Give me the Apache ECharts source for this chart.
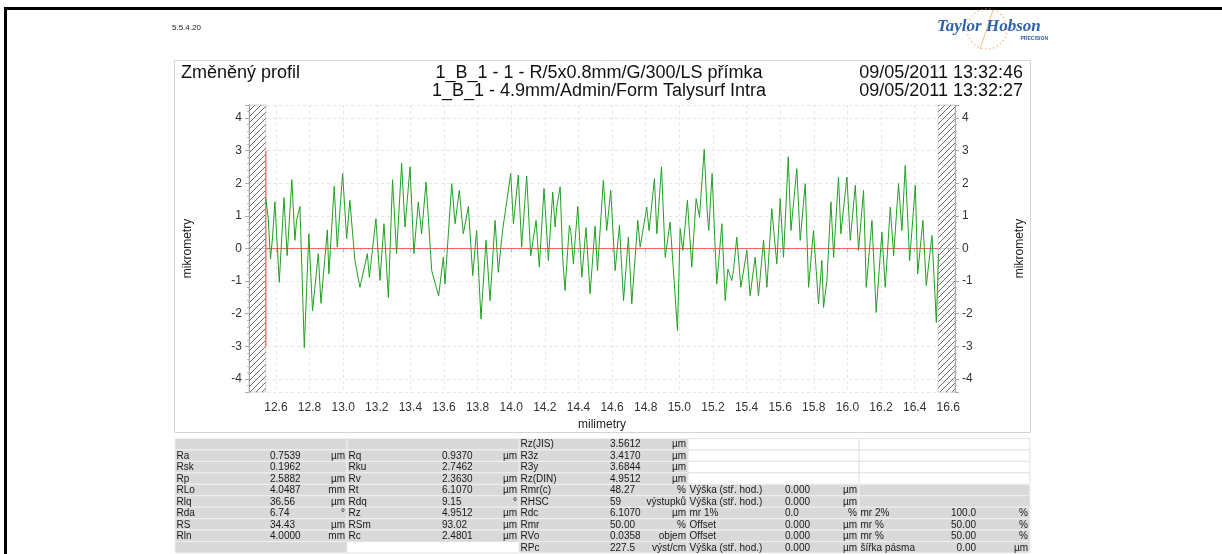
<!DOCTYPE html>
<html><head><meta charset="utf-8">
<script src="https://cdn.jsdelivr.net/npm/echarts@6/dist/echarts.min.js"></script>
<style>html,body{margin:0;padding:0;background:#fff}#c{width:1222px;height:554px}</style>
</head><body><div id="c"></div><script>
// ---------- data ----------
const profileX = [
12.540,12.554,12.568,12.580,12.594,12.620,12.648,12.667,12.695,12.713,
12.723,12.743,12.769,12.796,12.818,12.852,12.868,12.906,12.915,12.947,
12.965,12.997,13.021,13.040,13.070,13.100,13.144,13.156,13.195,13.219,
13.243,13.269,13.294,13.318,13.348,13.368,13.398,13.421,13.447,13.467,
13.493,13.527,13.568,13.596,13.606,13.646,13.666,13.691,13.715,13.745,
13.771,13.794,13.820,13.850,13.874,13.904,13.923,13.949,13.997,14.013,
14.042,14.062,14.092,14.116,14.148,14.167,14.195,14.221,
14.231,14.247,14.261,14.271,14.291,14.306,14.320,14.346,14.354,14.370,
14.380,14.396,14.420,14.445,14.469,14.499,14.513,14.548,14.568,14.592,
14.618,14.644,14.668,14.697,14.717,14.753,14.767,14.806,14.820,14.852,
14.866,14.894,14.916,14.945,14.969,14.989,15.005,15.021,15.048,15.074,
15.100,15.120,15.148,15.164,15.175,15.195,15.213,15.223,15.253,15.273,
15.289,15.312,15.322,15.342,15.366,15.402,15.421,15.451,15.471,15.501,
15.521,15.550,15.580,15.600,15.620,15.648,15.664,15.699,15.719,15.749,
15.769,15.798,15.828,15.848,15.858,15.878,15.902,15.918,15.947,15.961,
15.997,16.017,16.047,16.066,16.096,16.112,16.146,16.171,16.205,16.225,
16.255,16.275,16.304,16.324,16.344,16.370,16.404,16.418,16.449,16.469,
16.503,16.529,16.542];
const profileY = [
1.53,0.96,-0.32,0.35,1.43,-1.04,1.56,-0.22,2.11,0.25,
0.86,1.29,-3.04,0.45,-1.91,-0.16,-1.68,0.57,-0.78,1.91,
0.04,2.30,0.30,1.48,-0.37,-1.19,-0.16,-0.88,0.91,-0.98,
0.76,-1.50,2.11,-0.16,2.61,0.66,2.50,-0.16,1.43,0.45,
2.04,-0.68,-1.45,-0.27,-1.09,1.99,0.76,1.78,0.45,1.29,
-0.83,0.55,-2.16,0.25,-1.60,0.86,-0.73,0.57,2.30,0.76,
2.25,0.04,2.22,-0.22,0.86,-0.57,1.84,-0.37,
0.45,1.73,0.66,1.27,1.89,-0.27,-1.29,0.71,0.55,-0.47,
0.25,1.29,-0.88,0.64,-1.39,0.68,-0.68,2.09,0.55,1.78,
-0.68,0.71,-1.60,0.35,-1.70,0.86,0.04,1.27,0.55,2.14,
0.45,2.50,-0.27,0.81,-0.98,-2.52,0.61,-0.06,1.48,-0.57,
1.53,0.96,3.04,1.27,0.55,2.30,0.04,-1.09,0.76,-1.60,
-0.63,-0.98,-0.68,0.35,-1.19,-0.06,-1.45,-0.27,-1.45,0.25,
-1.19,1.22,-0.47,1.53,-0.27,2.81,0.55,2.45,0.25,1.99,
-1.19,0.55,-1.70,-0.37,-1.81,-0.98,1.43,-0.27,2.19,0.45,
2.19,0.25,1.94,-0.06,1.78,-1.19,0.86,-1.96,0.50,-1.19,
1.27,-0.22,1.99,0.55,2.55,-0.37,1.94,-0.78,0.86,-1.14,
0.40,-2.27,-0.16];
const zeroLineX = [12.54, 16.54];
const zeroLineY = [0, 0];
const startMarkX = [12.54, 12.54];
const startMarkY = [-3, 3];
const hatchLeft = [12.44, 12.54];
const hatchRight = [16.54, 16.64];
const xRange = [12.44, 16.64];
const yRange = [-4.4, 4.4];

const titleLeft = 'Změněný profil';
const titleCenter = ['1_B_1 - 1 - R/5x0.8mm/G/300/LS přímka', '1_B_1 - 4.9mm/Admin/Form Talysurf Intra'];
const titleRight = ['09/05/2011 13:32:46', '09/05/2011 13:32:27'];
const versionText = '5.5.4.20';
const xName = 'milimetry';
const yName = 'mikrometry';

// table (10 rows per group)
const g1Labels = ['', 'Ra', 'Rsk', 'Rp', 'RLo', 'Rlq', 'Rda', 'RS', 'Rln', ''];
const g1Values = ['', '0.7539', '0.1962', '2.5882', '4.0487', '36.56', '6.74', '34.43', '4.0000', ''];
const g1Units  = ['', 'µm', '', 'µm', 'mm', 'µm', '°', 'µm', 'mm', ''];
const g2Labels = ['', 'Rq', 'Rku', 'Rv', 'Rt', 'Rdq', 'Rz', 'RSm', 'Rc', ''];
const g2Values = ['', '0.9370', '2.7462', '2.3630', '6.1070', '9.15', '4.9512', '93.02', '2.4801', ''];
const g2Units  = ['', 'µm', '', 'µm', 'µm', '°', 'µm', 'µm', 'µm', ''];
const g3Labels = ['Rz(JIS)', 'R3z', 'R3y', 'Rz(DIN)', 'Rmr(c)', 'RHSC', 'Rdc', 'Rmr', 'RVo', 'RPc'];
const g3Values = ['3.5612', '3.4170', '3.6844', '4.9512', '48.27', '59', '6.1070', '50.00', '0.0358', '227.5'];
const g3Units  = ['µm', 'µm', 'µm', 'µm', '%', 'výstupků', 'µm', '%', 'objem', 'výst/cm'];
const g4Labels = ['', '', '', '', 'Výška (stř. hod.)', 'Výška (stř. hod.)', 'mr 1%', 'Offset', 'Offset', 'Výška (stř. hod.)'];
const g4Values = ['', '', '', '', '0.000', '0.000', '0.0', '0.000', '0.000', '0.000'];
const g4Units  = ['', '', '', '', 'µm', 'µm', '%', 'µm', 'µm', 'µm'];
const g5Labels = ['', '', '', '', '', '', 'mr 2%', 'mr %', 'mr %', 'šířka pásma'];
const g5Values = ['', '', '', '', '', '', '100.0', '50.00', '50.00', '0.00'];
const g5Units  = ['', '', '', '', '', '', '%', '%', '%', 'µm'];

// ---------- layout / style ----------
const FONT = '"Liberation Sans", Arial, sans-serif';
const groups = [
  {L: g1Labels, V: g1Values, U: g1Units, x0: 175, x1: 347, vx: 270, va: 'left', shade: [1,1,1,1,1,1,1,1,1,1]},
  {L: g2Labels, V: g2Values, U: g2Units, x0: 347, x1: 519, vx: 442, va: 'left', shade: [1,1,1,1,1,1,1,1,1,0]},
  {L: g3Labels, V: g3Values, U: g3Units, x0: 519, x1: 688, vx: 610, va: 'left', shade: [1,1,1,1,1,1,1,1,1,1]},
  {L: g4Labels, V: g4Values, U: g4Units, x0: 688, x1: 859, vx: 785, va: 'left', shade: [0,0,0,0,1,1,1,1,1,1]},
  {L: g5Labels, V: g5Values, U: g5Units, x0: 859, x1: 1030, vx: 976, va: 'right', shade: [0,0,0,0,1,1,1,1,1,1]}
];
const tableTop = 438.5, rowH = 11.45;

const graphics = [];
// page frame
graphics.push({type: 'line', shape: {x1: 4, y1: 8.5, x2: 1222, y2: 8.5}, style: {stroke: '#000', lineWidth: 3}});
graphics.push({type: 'line', shape: {x1: 5.5, y1: 7, x2: 5.5, y2: 554}, style: {stroke: '#000', lineWidth: 3}});
// chart panel
graphics.push({type: 'rect', z: -10, shape: {x: 174.5, y: 60.5, width: 856, height: 372}, style: {fill: '#fff', stroke: '#d4d4d4', lineWidth: 1}});
// version
graphics.push({type: 'text', x: 172, y: 28, style: {text: versionText, font: '8px ' + FONT, fill: '#222', align: 'left', verticalAlign: 'middle'}});
// titles
graphics.push({type: 'text', x: 181, y: 73, style: {text: titleLeft, font: '18px ' + FONT, fill: '#111', align: 'left', verticalAlign: 'middle'}});
titleCenter.forEach((t, i) => graphics.push({type: 'text', x: 599, y: 73 + i * 18, style: {text: t, font: '18px ' + FONT, fill: '#111', align: 'center', verticalAlign: 'middle'}}));
titleRight.forEach((t, i) => graphics.push({type: 'text', x: 1023, y: 73 + i * 18, style: {text: t, font: '18px ' + FONT, fill: '#111', align: 'right', verticalAlign: 'middle'}}));
// logo
graphics.push({type: 'circle', shape: {cx: 987, cy: 29, r: 20}, style: {fill: 'none', stroke: '#f0a050', lineWidth: 1.3, lineDash: [1, 3]}});
graphics.push({type: 'line', shape: {x1: 993, y1: 10, x2: 980, y2: 49}, style: {stroke: '#f3c08a', lineWidth: 1}});
graphics.push({type: 'text', x: 937, y: 27, style: {text: 'Taylor Hobson', font: 'italic bold 17px "Liberation Serif", serif', fill: '#2f62aa', align: 'left', verticalAlign: 'middle'}});
graphics.push({type: 'text', x: 1048, y: 39, style: {text: 'PRECISION', font: 'bold 5px ' + FONT, fill: '#2f62aa', align: 'right', verticalAlign: 'middle'}});

// table
groups.forEach(g => {
  for (let r = 0; r < 10; r++) {
    const y = tableTop + r * rowH;
    const shaded = g.shade[r] === 1;
    graphics.push({type: 'rect', z: 1, shape: {x: g.x0, y: y, width: g.x1 - g.x0, height: rowH},
      style: {fill: shaded ? '#d9d9d9' : '#ffffff', stroke: shaded ? '#efefef' : '#e2e2e2', lineWidth: 1}});
    const cy = y + rowH / 2 + 0.5;
    const ts = {font: '10px ' + FONT, fill: '#1a1a1a', verticalAlign: 'middle'};
    if (g.L[r]) graphics.push({type: 'text', z: 2, x: g.x0 + 1.5, y: cy, style: Object.assign({text: g.L[r], align: 'left'}, ts)});
    if (g.V[r]) graphics.push({type: 'text', z: 2, x: g.vx, y: cy, style: Object.assign({text: g.V[r], align: g.va}, ts)});
    if (g.U[r]) graphics.push({type: 'text', z: 2, x: g.x1 - 2, y: cy, style: Object.assign({text: g.U[r], align: 'right'}, ts)});
  }
});

// hatch pattern
const pc = document.createElement('canvas');
pc.width = 6; pc.height = 6;
const pctx = pc.getContext('2d');
pctx.strokeStyle = '#6a6a6a';
pctx.lineWidth = 1;
pctx.beginPath();
pctx.moveTo(0, 6); pctx.lineTo(6, 0);
pctx.moveTo(-1, 1); pctx.lineTo(1, -1);
pctx.moveTo(5, 7); pctx.lineTo(7, 5);
pctx.stroke();

const axisLabelStyle = {color: '#333', fontSize: 12, fontFamily: FONT};
const chart = echarts.init(document.getElementById('c'));
chart.setOption({
  animation: false,
  backgroundColor: '#fff',
  graphic: graphics,
  grid: {left: 249, right: 267, top: 105, bottom: 162, containLabel: false},
  xAxis: {
    type: 'value', min: xRange[0], max: xRange[1], splitNumber: 21,
    name: xName, nameLocation: 'middle', nameGap: 24,
    nameTextStyle: {color: '#222', fontSize: 12, fontFamily: FONT},
    axisLine: {show: true, lineStyle: {color: '#cfcfcf'}},
    axisTick: {show: true, length: 4, lineStyle: {color: '#bbb'}},
    minorTick: {show: true, splitNumber: 4, length: 2, lineStyle: {color: '#ccc'}},
    axisLabel: Object.assign({margin: 10, showMinLabel: false, showMaxLabel: false, formatter: v => v.toFixed(1)}, axisLabelStyle),
    splitLine: {show: true, lineStyle: {color: '#e6e6e6', type: [3, 3]}}
  },
  yAxis: [{
    type: 'value', min: yRange[0], max: yRange[1], splitNumber: 9, position: 'left',
    name: yName, nameLocation: 'middle', nameGap: 55, nameRotate: 90,
    nameTextStyle: {color: '#222', fontSize: 12, fontFamily: FONT},
    axisLine: {show: true, lineStyle: {color: '#aaa'}},
    axisTick: {show: true, length: 4, lineStyle: {color: '#aaa'}},
    minorTick: {show: true, splitNumber: 5, length: 2, lineStyle: {color: '#bbb'}},
    axisLabel: Object.assign({margin: 7, showMinLabel: false, showMaxLabel: false, formatter: v => String(Math.round(v))}, axisLabelStyle),
    splitLine: {show: true, lineStyle: {color: '#e6e6e6', type: [3, 3]}}
  }, {
    type: 'value', min: yRange[0], max: yRange[1], splitNumber: 9, position: 'right',
    name: yName, nameLocation: 'middle', nameGap: 59, nameRotate: 90,
    nameTextStyle: {color: '#222', fontSize: 12, fontFamily: FONT},
    axisLine: {show: true, lineStyle: {color: '#aaa'}},
    axisTick: {show: true, length: 4, lineStyle: {color: '#aaa'}},
    minorTick: {show: true, splitNumber: 5, length: 2, lineStyle: {color: '#bbb'}},
    axisLabel: Object.assign({margin: 7, showMinLabel: false, showMaxLabel: false, formatter: v => String(Math.round(v))}, axisLabelStyle),
    splitLine: {show: false}
  }],
  series: [
    {
      name: 'hatch', type: 'line', data: [], silent: true,
      markArea: {silent: true, itemStyle: {color: {image: pc, repeat: 'repeat'}, borderColor: '#aaa', borderWidth: 0.5},
        data: [[{xAxis: hatchLeft[0]}, {xAxis: hatchLeft[1]}], [{xAxis: hatchRight[0]}, {xAxis: hatchRight[1]}]]}
    },
    {
      name: 'zero', type: 'line', showSymbol: false, silent: true, z: 3,
      data: zeroLineX.map((x, i) => [x, zeroLineY[i]]),
      lineStyle: {color: '#ff6060', width: 1.2}
    },
    {
      name: 'start', type: 'line', showSymbol: false, silent: true, z: 3,
      data: startMarkX.map((x, i) => [x, startMarkY[i]]),
      lineStyle: {color: '#ff6060', width: 1.2}
    },
    {
      name: 'profil', type: 'line', showSymbol: false, silent: true, z: 4,
      data: profileX.map((x, i) => [x, profileY[i]]),
      lineStyle: {color: '#22a022', width: 1}
    }
  ]
});
</script></body></html>
